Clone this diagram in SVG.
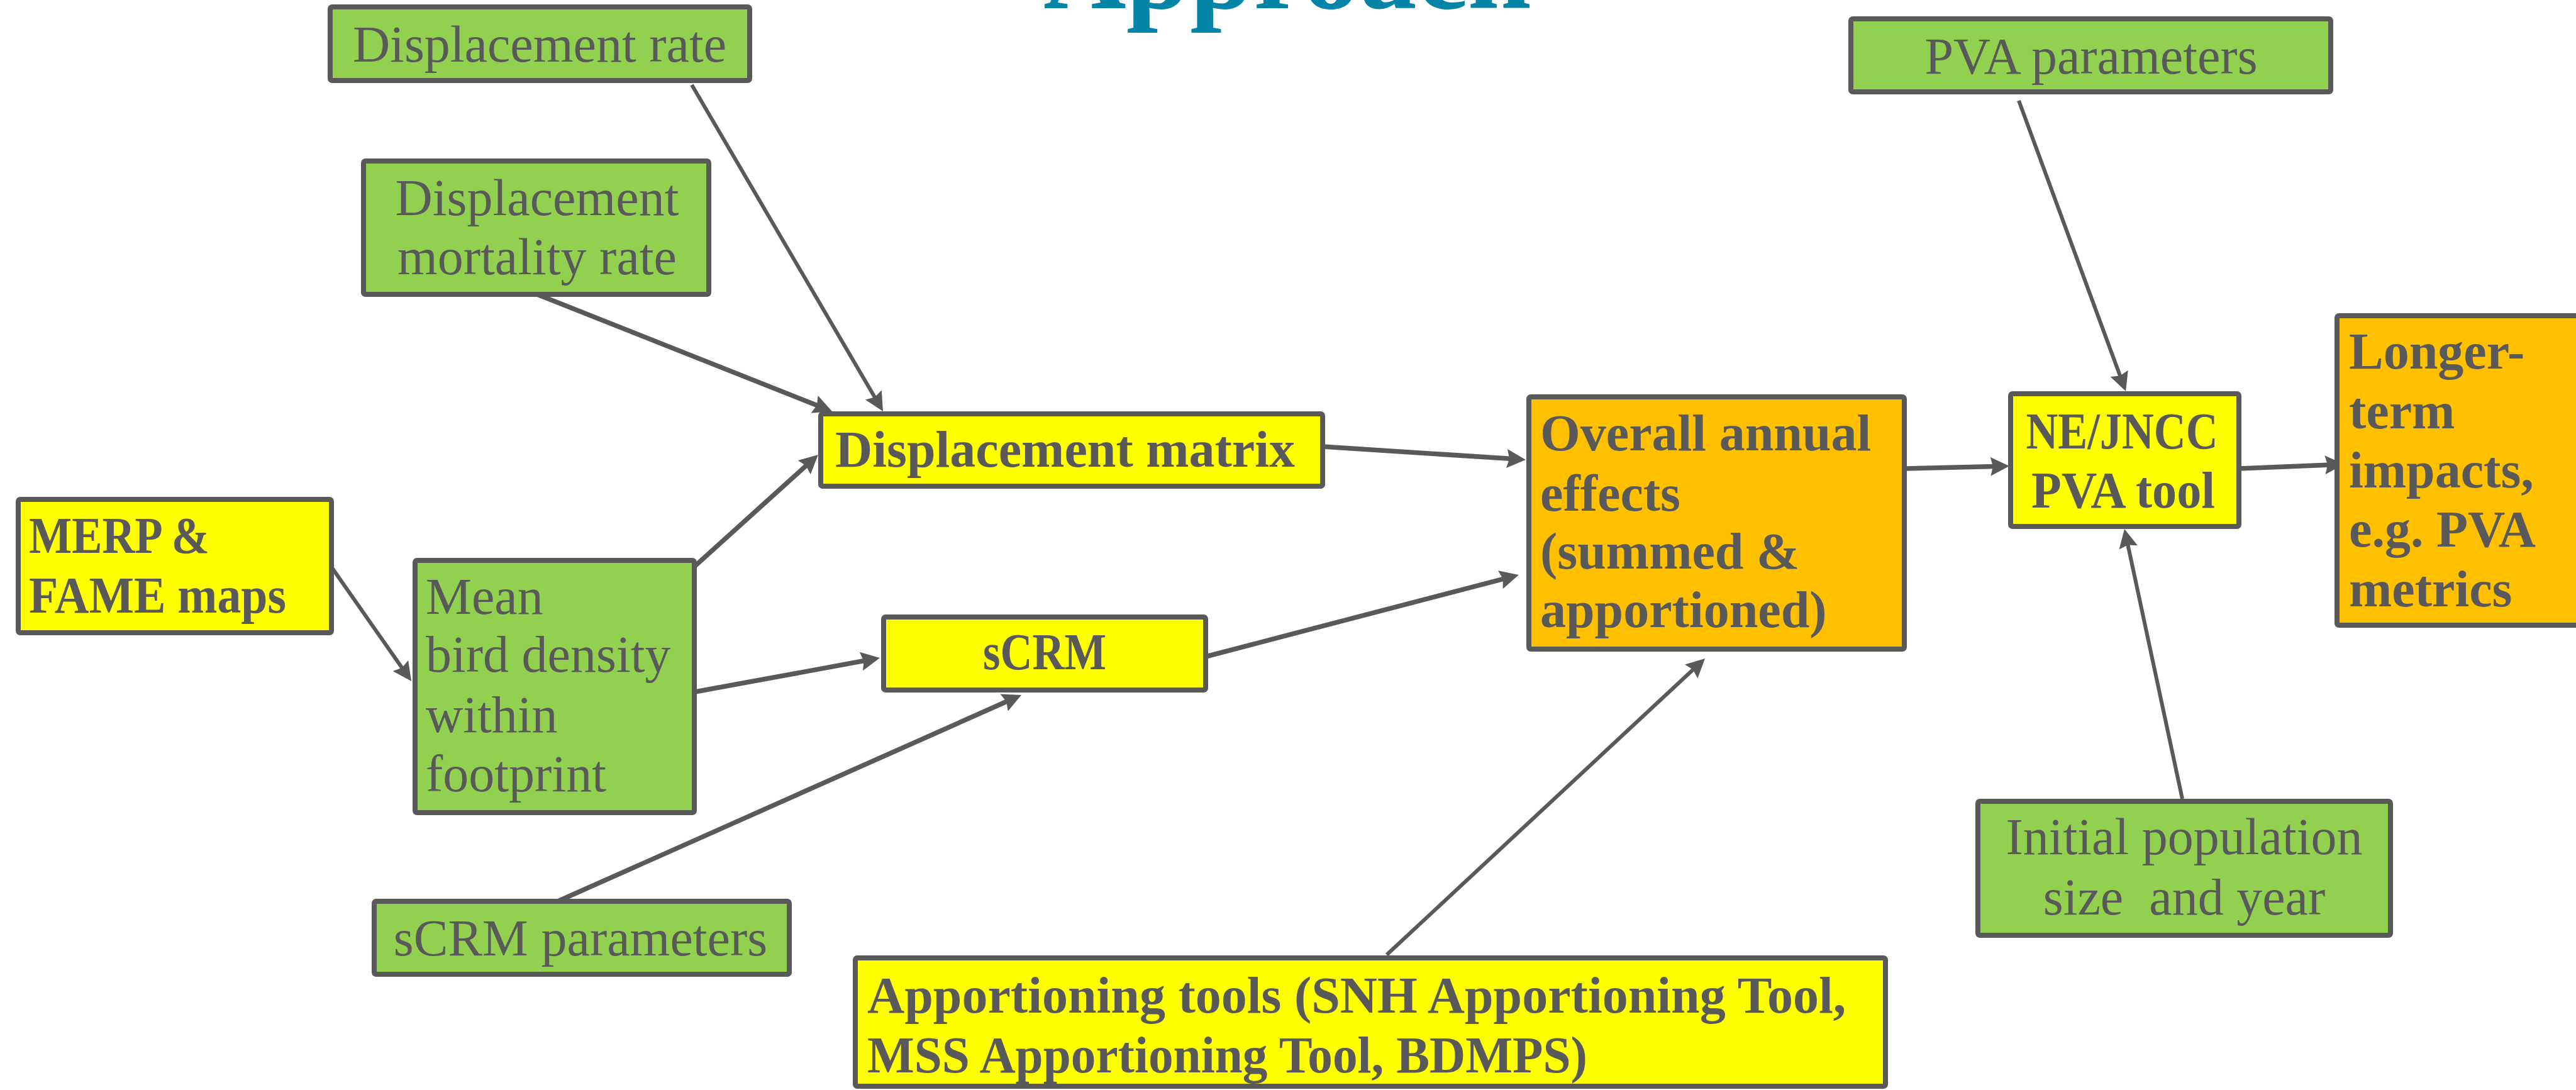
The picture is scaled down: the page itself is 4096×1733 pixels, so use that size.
<svg xmlns="http://www.w3.org/2000/svg" width="4096" height="1733" viewBox="0 0 4096 1733">
<style>
.box{stroke:#595959;stroke-width:8;stroke-linejoin:round}
.g{fill:#92d050}.y{fill:#ffff00}.o{fill:#ffc000}
text{font-family:"Liberation Serif","Times New Roman",serif;font-size:82px;fill:#595959}
.b{font-weight:bold}
.c{text-anchor:middle}
.ln{stroke:#595959;fill:none;marker-end:url(#ah)}
.t{stroke-width:7.5}.n{stroke-width:6}
.title{font-size:182px;font-weight:bold;fill:#0484a7;text-anchor:middle}
</style>
<defs>
<marker id="ah" markerUnits="userSpaceOnUse" markerWidth="32" markerHeight="32" refX="9" refY="15" orient="auto" viewBox="0 0 32 32">
<path d="M0,0 L30,15 L0,30 L4,15 z" fill="#595959"/>
</marker>
</defs>
<rect width="4096" height="1733" fill="#ffffff"/>
<text class="title" x="2047" y="13">Approach</text>
<g id="connectors">
<line class="ln n" x1="1100" y1="135" x2="1393.4" y2="635.8"/>
<line class="ln t" x1="854" y1="468" x2="1303.5" y2="646.2"/>
<line class="ln t" x1="1105" y1="900" x2="1285.4" y2="737.1"/>
<line class="ln n" x1="526" y1="900" x2="642" y2="1065.8"/>
<line class="ln t" x1="1105" y1="1100" x2="1378.3" y2="1049.8"/>
<line class="ln t" x1="889" y1="1432" x2="1604.8" y2="1113.5"/>
<line class="ln t" x1="1917" y1="1044" x2="2394.6" y2="919.4"/>
<line class="ln t" x1="2103" y1="710" x2="2405" y2="729.6"/>
<line class="ln n" x1="2205" y1="1518" x2="2695.7" y2="1061.3"/>
<line class="ln t" x1="3029" y1="745" x2="3174" y2="741.5"/>
<line class="ln t" x1="3560" y1="745" x2="3706" y2="738.9"/>
<line class="ln n" x1="3210" y1="160" x2="3372.8" y2="602.3"/>
<line class="ln n" x1="3470" y1="1270" x2="3382.4" y2="861.5"/>
</g>
<g id="displacement-rate">
<rect class="box g" x="525" y="11" width="667" height="117" rx="3"/>
<text class="c" x="858" y="98">Displacement rate</text>
</g>
<g id="displacement-mortality">
<rect class="box g" x="578" y="256" width="549" height="212" rx="3"/>
<text class="c" x="854" y="342">Displacement</text>
<text class="c" x="854" y="436">mortality rate</text>
</g>
<g id="merp-fame">
<rect class="box y" x="29" y="794" width="498" height="212" rx="3"/>
<text class="b" x="46" y="879" textLength="287" lengthAdjust="spacingAndGlyphs">MERP &amp;</text>
<text class="b" x="46" y="974" textLength="409" lengthAdjust="spacingAndGlyphs">FAME maps</text>
</g>
<g id="mean-bird-density">
<rect class="box g" x="660" y="891" width="444" height="401" rx="3"/>
<text x="677" y="976">Mean</text>
<text x="677" y="1068">bird density</text>
<text x="677" y="1164">within</text>
<text x="677" y="1258">footprint</text>
</g>
<g id="displacement-matrix">
<rect class="box y" x="1305" y="658" width="798" height="115" rx="3"/>
<text class="b" x="1328" y="742">Displacement matrix</text>
</g>
<g id="scrm">
<rect class="box y" x="1405" y="981" width="512" height="116" rx="3"/>
<text class="b c" x="1661" y="1064" textLength="196" lengthAdjust="spacingAndGlyphs">sCRM</text>
</g>
<g id="scrm-parameters">
<rect class="box g" x="595" y="1433" width="660" height="116" rx="3"/>
<text class="c" x="923" y="1519">sCRM parameters</text>
</g>
<g id="apportioning-tools">
<rect class="box y" x="1360" y="1523" width="1638" height="204" rx="3"/>
<text class="b" x="1379" y="1610">Apportioning tools (SNH Apportioning Tool,</text>
<text class="b" x="1379" y="1705" textLength="1145" lengthAdjust="spacingAndGlyphs">MSS Apportioning Tool, BDMPS)</text>
</g>
<g id="overall-annual-effects">
<rect class="box o" x="2431" y="631" width="597" height="401" rx="3"/>
<text class="b" x="2449" y="716">Overall annual</text>
<text class="b" x="2449" y="812">effects</text>
<text class="b" x="2449" y="904">(summed &amp;</text>
<text class="b" x="2449" y="997">apportioned)</text>
</g>
<g id="ne-jncc-pva-tool">
<rect class="box y" x="3197" y="626" width="363" height="211" rx="3"/>
<text class="b c" x="3374" y="713" textLength="305" lengthAdjust="spacingAndGlyphs">NE/JNCC</text>
<text class="b c" x="3376" y="807" textLength="292" lengthAdjust="spacingAndGlyphs">PVA tool</text>
</g>
<g id="pva-parameters">
<rect class="box g" x="2943" y="30" width="763" height="116" rx="3"/>
<text class="c" x="3325" y="117">PVA parameters</text>
</g>
<g id="longer-term-impacts">
<rect class="box o" x="3716" y="502" width="420" height="492" rx="3"/>
<text class="b" x="3735" y="586">Longer-</text>
<text class="b" x="3735" y="681">term</text>
<text class="b" x="3735" y="775">impacts,</text>
<text class="b" x="3735" y="869">e.g. PVA</text>
<text class="b" x="3735" y="964">metrics</text>
</g>
<g id="initial-population">
<rect class="box g" x="3145" y="1274" width="656" height="213" rx="3"/>
<text class="c" x="3473" y="1358">Initial population</text>
<text class="c" x="3473" y="1454" xml:space="preserve">size  and year</text>
</g>
</svg>
